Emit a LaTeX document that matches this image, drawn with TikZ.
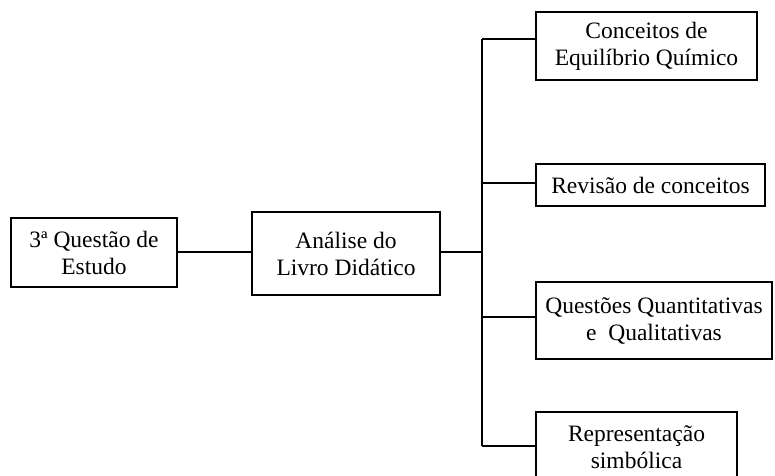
\documentclass[tikz,border=0pt]{standalone}
\usepackage{fontspec}
\setmainfont{Liberation Serif}
\begin{document}
\begin{tikzpicture}[x=1pt,y=-1pt,
  boxnode/.style={draw,line width=1.5pt,rectangle,inner sep=0pt,align=center,
    font=\fontsize{23.5}{27}\selectfont},
  conn/.style={line width=1.3pt}]
\useasboundingbox (0,0) rectangle (775,475);
\node[boxnode,minimum width=166pt,minimum height=69pt] (q) at (94,252.5) {3ª Questão de\\Estudo};
\node[boxnode,minimum width=188pt,minimum height=83pt] (a) at (346,253.5) {Análise do\\Livro Didático};
\node[boxnode,minimum width=221pt,minimum height=68pt] (c) at (646.5,46) {Conceitos de\\Equilíbrio Químico};
\node[boxnode,minimum width=229pt,minimum height=42pt] (r) at (650.5,185) {Revisão de conceitos};
\node[boxnode,minimum width=236pt,minimum height=77pt] (qq) at (654,320.5) {Questões Quantitativas\\e\ \ Qualitativas};
\node[boxnode,minimum width=201pt,minimum height=70pt] (s) at (636.5,447) {Representação\\simbólica};
\coordinate (top) at (482,39);
\coordinate (mid) at (482,252);
\coordinate (jr) at (482,183);
\coordinate (jq) at (482,317);
\coordinate (bot) at (482,446);
\draw[conn] (q.east |- mid) -- (a.west |- mid);
\draw[conn] (a.east |- mid) -- (mid);
\draw[conn] (top) -- (bot);
\draw[conn] (top) -- (top -| c.west);
\draw[conn] (jr) -- (jr -| r.west);
\draw[conn] (jq) -- (jq -| qq.west);
\draw[conn] (bot) -- (bot -| s.west);
\end{tikzpicture}
\end{document}
